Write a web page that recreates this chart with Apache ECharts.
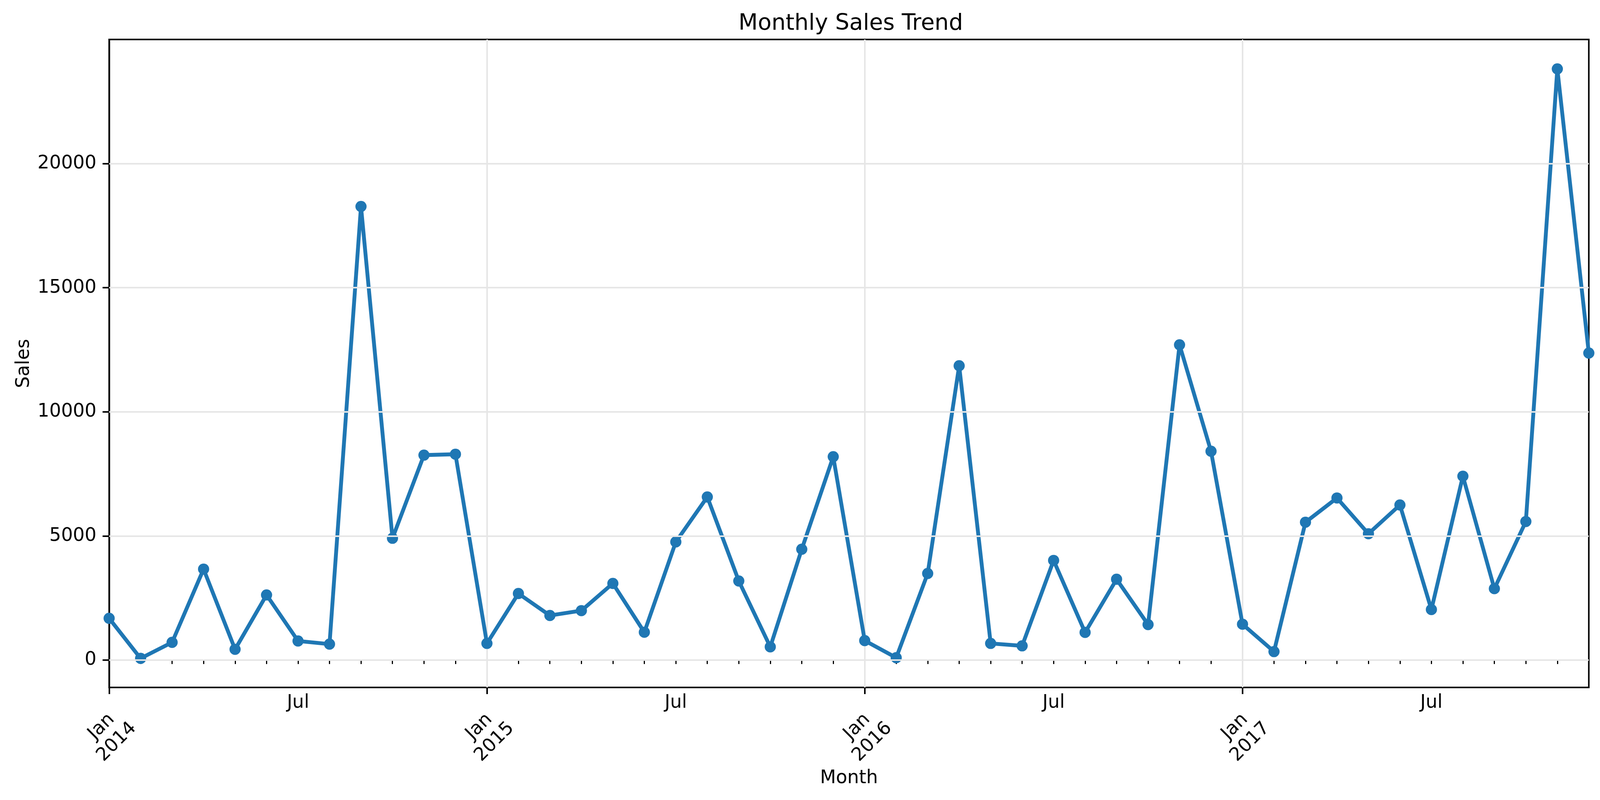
<!DOCTYPE html>
<html>
<head>
<meta charset="utf-8">
<script src="https://cdn.jsdelivr.net/npm/echarts@6/dist/echarts.min.js"></script>
<style>
  html, body { margin: 0; padding: 0; background: #fff; overflow: hidden; }
  #chart { width: 100vw; height: 100vh; }
</style>
</head>
<body>
<div id="chart"></div>
<script>
// data
var years = [2014, 2015, 2016, 2017];
var monthNames = ['Jan', 'Feb', 'Mar', 'Apr', 'May', 'Jun', 'Jul', 'Aug', 'Sep', 'Oct', 'Nov', 'Dec'];
var sales = [
  1685, 70, 716, 3666, 435, 2626, 772, 646, 18273, 4909, 8258, 8294,
  674, 2683, 1798, 1994, 3090, 1124, 4761, 6573, 3188, 534, 4466, 8195,
  787, 98, 3490, 11857, 674, 576, 4017, 1117, 3258, 1433, 12701, 8413,
  1447, 344, 5555, 6531, 5091, 6250, 2037, 7409, 2879, 5583, 23815, 12369
];
var yTicks = [0, 5000, 10000, 15000, 20000];

var months = [];
years.forEach(function (y) {
  monthNames.forEach(function (m) { months.push(m + ' ' + y); });
});

// layout was measured on a 4149x2047 canvas; scale to whatever the viewport really is
var dom = document.getElementById('chart');
var sx = dom.clientWidth / 4149;
var sy = dom.clientHeight / 2047;
function px(v) { return v * sx; }
function py(v) { return v * sy; }

var font = 'DejaVu Sans';
var gridColor = '#e6e6e6';
var blue = '#1f77b4';

var chart = echarts.init(dom);

var option = {
  animation: false,
  backgroundColor: '#fff',
  textStyle: { fontFamily: font },
  title: {
    text: 'Monthly Sales Trend',
    left: px(2201),
    top: py(28),
    textAlign: 'center',
    textStyle: { fontFamily: font, fontSize: px(58), fontWeight: 'normal', color: '#000' }
  },
  grid: {
    left: px(283), right: px(29), top: py(101), bottom: py(288),
    show: true, borderColor: '#000', borderWidth: px(4), backgroundColor: 'transparent'
  },
  xAxis: [{
    // minor ticks every month, "Jul" labels
    type: 'category',
    data: months,
    boundaryGap: false,
    position: 'bottom',
    axisLine: { show: true, lineStyle: { color: '#000', width: px(4) } },
    axisTick: {
      show: true, length: py(10),
      interval: function (i) { return i % 12 !== 0; },
      lineStyle: { color: '#000', width: px(3) }
    },
    axisLabel: {
      show: true, margin: py(16),
      interval: function (i) { return i % 12 === 6; },
      formatter: function (v) { return v.split(' ')[0]; },
      fontFamily: font, fontSize: px(48), color: '#000'
    },
    splitLine: {
      show: true,
      interval: function (i) { return i % 12 === 0; },
      lineStyle: { color: gridColor, width: px(4) }
    }
  }, {
    // major ticks at Jan, rotated year labels
    type: 'category',
    data: months,
    boundaryGap: false,
    position: 'bottom',
    offset: 0,
    name: 'Month',
    nameLocation: 'middle',
    nameGap: py(205),
    nameTextStyle: { fontFamily: font, fontSize: px(48), color: '#000' },
    axisLine: { show: false },
    axisTick: {
      show: true, length: py(17),
      interval: function (i) { return i % 12 === 0; },
      lineStyle: { color: '#000', width: px(4) }
    },
    axisLabel: {
      show: true, rotate: 45, margin: py(120),
      align: 'center', verticalAlign: 'middle',
      interval: function (i) { return i % 12 === 0; },
      formatter: function (v) { return v.replace(' ', '\n'); },
      fontFamily: font, fontSize: px(48), color: '#000', lineHeight: px(56)
    },
    splitLine: { show: false }
  }],
  yAxis: {
    type: 'value',
    min: -1100,
    max: 25000,
    name: 'Sales',
    nameLocation: 'middle',
    nameGap: px(185),
    nameRotate: 90,
    nameTextStyle: { fontFamily: font, fontSize: px(48), color: '#000' },
    axisLine: { show: true, lineStyle: { color: '#000', width: px(4) } },
    axisTick: {
      show: true, length: px(17), customValues: yTicks,
      lineStyle: { color: '#000', width: px(4) }
    },
    axisLabel: {
      show: true, margin: px(33), customValues: yTicks,
      formatter: function (v) { return String(v); },
      fontFamily: font, fontSize: px(48), color: '#000'
    },
    splitLine: { show: false }
  },
  series: [{
    // carrier for horizontal gridlines, drawn under the data line
    type: 'line',
    data: sales,
    z: 1,
    silent: true,
    showSymbol: false,
    lineStyle: { opacity: 0 },
    markLine: {
      silent: true,
      symbol: ['none', 'none'],
      label: { show: false },
      lineStyle: { color: gridColor, width: py(4), type: 'solid' },
      data: yTicks.map(function (v) { return { yAxis: v }; })
    }
  }, {
    name: 'Sales',
    type: 'line',
    data: sales,
    z: 3,
    symbol: 'circle',
    symbolSize: px(29),
    showSymbol: true,
    lineStyle: { color: blue, width: px(10) },
    itemStyle: { color: blue }
  }]
};

chart.setOption(option);
</script>
</body>
</html>
